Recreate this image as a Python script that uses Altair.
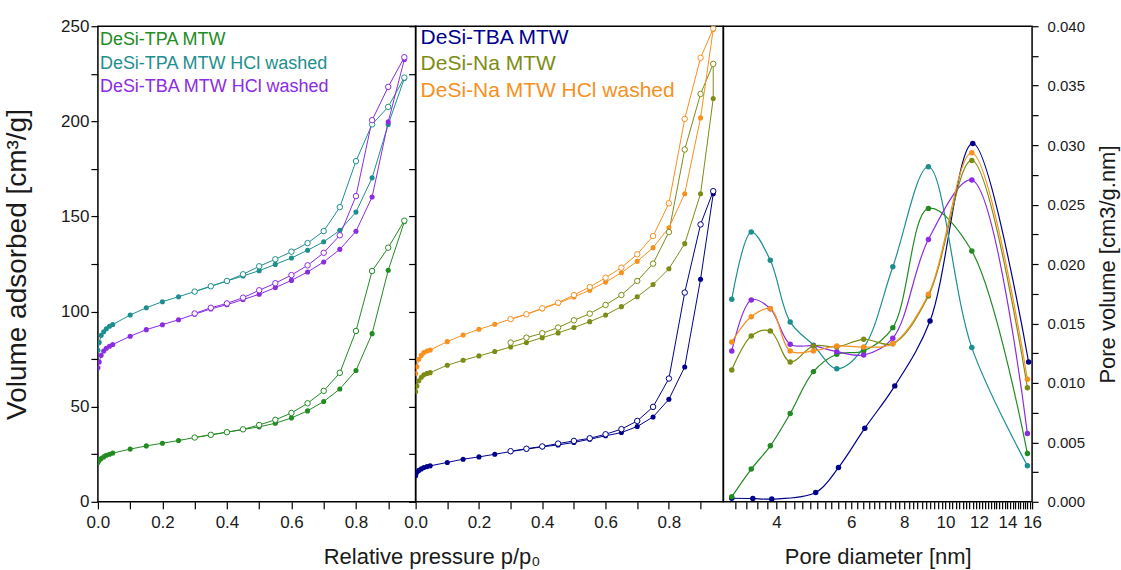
import altair as alt
import pandas as pd

FONT = "Liberation Sans, Arial, sans-serif"

NAMES = ["DeSi-TPA MTW", "DeSi-TPA MTW HCl washed", "DeSi-TBA MTW HCl washed",
         "DeSi-TBA MTW", "DeSi-Na MTW", "DeSi-Na MTW HCl washed"]
COLORS = ["#228B22", "#1E8F8F", "#8B2BE2", "#00008B", "#7D8C14", "#F7901E"]

# ---------------- isotherm pressures ----------------
LOW_P = [0.0, 0.004, 0.010, 0.018, 0.026, 0.036, 0.046]
MID_P = [0.10, 0.15, 0.20, 0.25, 0.30, 0.35, 0.40, 0.45, 0.50, 0.55,
         0.60, 0.65, 0.70, 0.75, 0.80, 0.85, 0.90]
P_ADS_LEFT = LOW_P + MID_P + [0.95]
P_DES_LEFT = [0.95, 0.90, 0.85, 0.80, 0.75, 0.70, 0.65, 0.60, 0.55, 0.50, 0.45, 0.40, 0.35, 0.30]
P_ADS_MID = LOW_P + MID_P + [0.94]
P_DES_MID = [0.94, 0.90, 0.85, 0.80, 0.75, 0.70, 0.65, 0.60, 0.55, 0.50, 0.45, 0.40, 0.35, 0.30]

# left panel
TPA_ADS = [20.6, 21.9, 22.7, 23.6, 24.5, 25.0, 25.6,
           27.7, 29.4, 30.8, 32.2, 33.8, 35.2, 36.6, 38.0, 39.4, 41.3, 44.1, 47.8, 52.7, 59.3, 69.0, 88.4, 121.7,
           147.2]
TPA_DES = [147.8, 133.6, 121.3, 89.8, 67.8, 58.3, 51.8, 46.7, 43.1, 40.4, 38.1, 36.6, 35.2, 33.8]
TPA_HCL_ADS = [79.7, 83.7, 87.5, 89.4, 91.0, 92.3, 93.2,
               98.2, 102.0, 105.2, 107.8, 110.5, 113.3, 116.1, 118.7, 121.5, 124.8, 128.2, 132.2, 136.7, 142.7,
               152.3, 170.3, 198.4,
               222.5]
TPA_HCL_DES = [223.0, 207.6, 198.4, 179.1, 154.9, 142.3, 136.0, 131.5, 127.5, 123.8, 119.6, 116.1, 113.3, 110.5]
TBA_HCL_ADS = [70.5, 73.5, 77.0, 79.3, 80.7, 81.8, 82.7,
               87.0, 90.5, 93.1, 95.7, 98.6, 101.4, 103.6, 106.3, 109.1, 112.6, 116.4, 120.8, 126.1, 132.7,
               142.2, 160.2, 199.7,
               232.5]
TBA_HCL_DES = [233.7, 218.1, 200.6, 160.7, 140.1, 130.9, 124.3, 119.2, 114.9, 111.2, 107.3, 104.3, 102.0, 99.0]

# middle panel
TBA_ADS = [13.7, 15.5, 16.5, 17.3, 18.0, 18.5, 18.9,
           20.7, 22.4, 23.6, 25.0, 26.4, 27.7, 28.9, 29.9, 31.2, 32.9, 34.7, 36.4, 39.6, 44.6, 53.9, 70.9, 117.0,
           161.9]
TBA_DES = [163.3, 145.8, 110.0, 64.8, 49.9, 42.5, 38.2, 35.5, 33.4, 32.0, 30.6, 29.1, 27.9, 26.6]
NA_ADS = [57.9, 60.9, 63.6, 65.5, 66.8, 67.5, 67.9,
          71.8, 74.4, 76.7, 79.0, 81.4, 83.7, 86.3, 88.8, 91.6, 94.7, 98.2, 102.6, 107.8, 114.2, 122.5, 135.7,
          161.9,
          212.0]
NA_DES = [230.2, 214.4, 185.2, 141.8, 125.2, 116.1, 108.7, 103.5, 98.9, 95.4, 91.6, 88.6, 86.3, 83.7]
NA_HCL_ADS = [67.4, 71.0, 74.9, 77.0, 78.5, 79.3, 79.8,
              84.2, 87.7, 90.7, 93.3, 96.0, 98.6, 101.5, 104.4, 107.7, 111.2, 115.5, 120.4, 126.4, 133.6, 144.1,
              161.9, 201.8,
              248.3]
NA_HCL_DES = [248.8, 233.4, 201.3, 156.9, 139.7, 130.1, 123.1, 117.8, 112.9, 108.7, 104.7, 101.7, 98.6, 96.0]

# ---------------- pore size distribution ----------------
D = [3.14, 3.49, 3.87, 4.31, 4.89, 5.55, 6.42, 7.52, 9.12, 11.54, 15.6]
D_TBA = [3.14, 3.52, 3.90, 4.95, 5.60, 6.46, 7.60, 9.20, 11.60, 15.70]
PSD_TPA = [0.00042, 0.00275, 0.00471, 0.00742, 0.01095, 0.01241, 0.01269, 0.01465, 0.02468, 0.02109, 0.00406]
PSD_TPA_HCL = [0.01703, 0.02269, 0.02031, 0.01513, 0.01317, 0.01120, 0.01297, 0.01977, 0.02818, 0.01297, 0.00303]
PSD_TBA_HCL = [0.01269, 0.01697, 0.01624, 0.01325, 0.01311, 0.01263, 0.01235, 0.01376, 0.02207, 0.02706, 0.00574]
PSD_TBA = [0.00030, 0.00028, 0.00023, 0.00078, 0.00288, 0.00619, 0.00975, 0.01521, 0.03014, 0.01176]
PSD_NA = [0.01109, 0.01395, 0.01437, 0.01176, 0.01311, 0.01303, 0.01367, 0.01330, 0.01731, 0.02871, 0.00960]
PSD_NA_HCL = [0.01344, 0.01557, 0.01624, 0.01269, 0.01269, 0.01311, 0.01302, 0.01330, 0.01745, 0.02935, 0.01031]


def iso_frame(entries):
    rows = []
    for name, pa, va, pd_, vd in entries:
        i = 0
        for p, v in zip(pa, va):
            rows.append({"series": name, "branch": "ads", "p": p, "v": v, "i": i})
            i += 1
        for p, v in zip(pd_, vd):
            rows.append({"series": name, "branch": "des", "p": p, "v": v, "i": i})
            i += 1
    return pd.DataFrame(rows)


left_df = iso_frame([
    (NAMES[0], P_ADS_LEFT, TPA_ADS, P_DES_LEFT, TPA_DES),
    (NAMES[1], P_ADS_LEFT, TPA_HCL_ADS, P_DES_LEFT, TPA_HCL_DES),
    (NAMES[2], P_ADS_LEFT, TBA_HCL_ADS, P_DES_LEFT, TBA_HCL_DES),
])
mid_df = iso_frame([
    (NAMES[3], P_ADS_MID, TBA_ADS, P_DES_MID, TBA_DES),
    (NAMES[4], P_ADS_MID, NA_ADS, P_DES_MID, NA_DES),
    (NAMES[5], P_ADS_MID, NA_HCL_ADS, P_DES_MID, NA_HCL_DES),
])

psd_rows = []
for name, ds, vs in [(NAMES[3], D_TBA, PSD_TBA), (NAMES[1], D, PSD_TPA_HCL), (NAMES[0], D, PSD_TPA),
                     (NAMES[2], D, PSD_TBA_HCL), (NAMES[4], D, PSD_NA), (NAMES[5], D, PSD_NA_HCL)]:
    for i, (d, v) in enumerate(zip(ds, vs)):
        psd_rows.append({"series": name, "d": d, "pv": v, "i": i})
psd_df = pd.DataFrame(psd_rows)

color_scale = alt.Scale(domain=NAMES, range=COLORS)

P_TICKS = [0.0, 0.1, 0.2, 0.3, 0.4, 0.5, 0.6, 0.7, 0.8, 0.9]
V_TICKS = [0, 25, 50, 75, 100, 125, 150, 175, 200, 225, 250]
D_TICKS = [round(3.2 + 0.2 * k, 1) for k in range(65)]
PV_TICKS = [round(0.0025 * k, 4) for k in range(17)]


def legend_layer(label, color, x, y, size):
    return alt.Chart(pd.DataFrame({"t": [label]})).mark_text(
        align="left", baseline="middle", font=FONT, fontSize=size, color=color
    ).encode(text="t:N", x=alt.value(x), y=alt.value(y))


def iso_panel(df, xmax, width, yaxis, xaxis, legends):
    base = alt.Chart(df).encode(
        x=alt.X("p:Q", scale=alt.Scale(domain=[0, xmax], nice=False, zero=False), axis=xaxis),
        y=alt.Y("v:Q", scale=alt.Scale(domain=[0, 250], nice=False), axis=yaxis),
    )
    line = base.mark_line(strokeWidth=1, clip=True).encode(
        color=alt.Color("series:N", scale=color_scale, legend=None),
        detail="series:N", order="i:Q")
    ads = base.transform_filter(alt.datum.branch == "ads").mark_point(
        shape="circle", filled=True, size=26, opacity=1, clip=True
    ).encode(color=alt.Color("series:N", scale=color_scale, legend=None))
    des = base.transform_filter(alt.datum.branch == "des").mark_point(
        shape="circle", filled=True, fill="white", size=30, strokeWidth=1, opacity=1, clip=True
    ).encode(stroke=alt.Stroke("series:N", scale=color_scale, legend=None))
    return alt.layer(line, ads, des, *legends).properties(width=width, height=476)


p_label_expr = "round(datum.value*10) % 2 == 0 ? format(datum.value, '.1f') : ''"

left_x_axis = alt.Axis(values=P_TICKS, labelExpr=p_label_expr, title=None,
                       labelOverlap=False, labelFontSize=17)
left_y_axis = alt.Axis(values=V_TICKS, labelExpr="datum.value % 50 == 0 ? datum.value : ''",
                       title="Volume adsorbed [cm³/g]", titleX=-72, titleY=238, titleFontSize=28,
                       titleAngle=270, titleBaseline="alphabetic", titleAlign="center",
                       labelPadding=2, labelOverlap=False, labelFontSize=17)
mid_x_axis = alt.Axis(values=P_TICKS, labelExpr=p_label_expr, title="Relative pressure p/p₀",
                      titleX=16, titleY=62, titleBaseline="alphabetic", titleAlign="center",
                      labelOverlap=False, labelFontSize=17)
mid_y_axis = alt.Axis(values=V_TICKS, labels=False, title=None)

left = iso_panel(left_df, 0.985, 318, left_y_axis, left_x_axis, [
    legend_layer(NAMES[0], COLORS[0], 2, 14, 18),
    legend_layer(NAMES[1], COLORS[1], 2, 38, 18),
    legend_layer(NAMES[2], COLORS[2], 2, 61, 18),
])
mid = iso_panel(mid_df, 0.972, 308, mid_y_axis, mid_x_axis, [
    legend_layer(NAMES[3], COLORS[3], 5, 12, 21),
    legend_layer(NAMES[4], COLORS[4], 5, 38, 21),
    legend_layer(NAMES[5], COLORS[5], 5, 65, 21),
])

psd_base = alt.Chart(psd_df).encode(
    x=alt.X("d:Q", scale=alt.Scale(type="log", domain=[3, 16], nice=False),
            axis=alt.Axis(values=D_TICKS, labelExpr="datum.value % 2 == 0 ? format(datum.value, 'd') : ''",
                          title="Pore diameter [nm]", titleY=62, titleBaseline="alphabetic",
                          labelOverlap=False, labelFontSize=17)),
    y=alt.Y("pv:Q", scale=alt.Scale(domain=[0, 0.04], nice=False),
            axis=alt.Axis(orient="right", values=PV_TICKS,
                          labelExpr="round(datum.value*1000) % 5 == 0 ? format(datum.value, '.3f') : ''",
                          title="Pore volume [cm3/g.nm]", titleAngle=270, titleX=82, titleY=238,
                          titleBaseline="alphabetic", titleAlign="center", titleFontSize=22,
                          tickSize=6, labelPadding=9, labelOverlap=False)),
    color=alt.Color("series:N", scale=color_scale, legend=None),
)
psd_lines = psd_base.mark_line(interpolate="catmull-rom", strokeWidth=1.2, clip=True).encode(
    detail="series:N", order="i:Q")
psd_pts = psd_base.mark_point(shape="circle", filled=True, size=30, opacity=1, clip=True)
right = alt.layer(psd_lines, psd_pts).properties(width=309, height=476)

chart = alt.hconcat(left, mid, right, spacing=0, bounds="flush").configure_view(
    stroke="black", strokeWidth=1.5
).configure_axis(
    domain=False, grid=False, ticks=True, tickColor="black", tickWidth=1.2, tickSize=7,
    labelFont=FONT, labelFontSize=15, labelColor="#1a1a1a", labelPadding=6,
    labelFlush=False, labelOverlap=False,
    titleFont=FONT, titleFontSize=22, titleFontWeight="normal", titleColor="#1a1a1a",
).properties(
    padding={"left": 3, "top": 16, "right": 2, "bottom": 2}
)

chart.save("out.html", embed_options={"renderer": "svg", "actions": False})
